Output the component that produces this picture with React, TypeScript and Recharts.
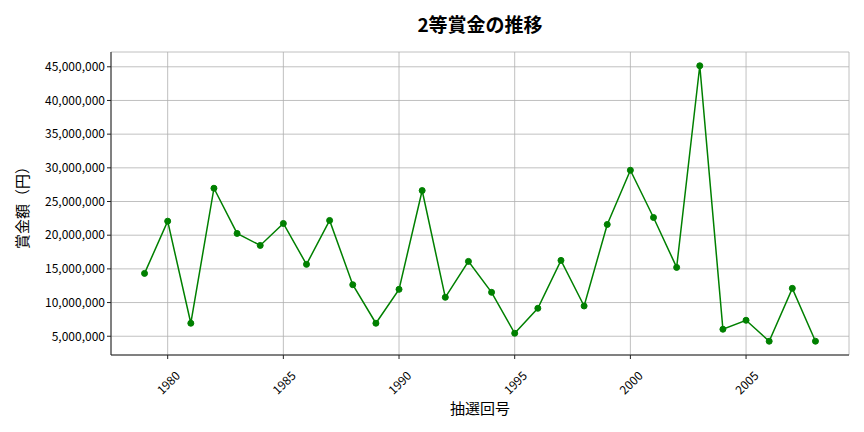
import React from "react";
import { LineChart, Line, XAxis, YAxis, CartesianGrid } from "recharts";

const years = [1979, 1980, 1981, 1982, 1983, 1984, 1985, 1986, 1987, 1988, 1989, 1990, 1991, 1992, 1993, 1994, 1995, 1996, 1997, 1998, 1999, 2000, 2001, 2002, 2003, 2004, 2005, 2006, 2007, 2008];
const prizes = [14330000, 22080000, 6930000, 26970000, 20260000, 18480000, 21740000, 15670000, 22190000, 12650000, 6930000, 11960000, 26630000, 10780000, 16110000, 11520000, 5440000, 9150000, 16260000, 9490000, 21590000, 29640000, 22630000, 15220000, 45150000, 6040000, 7370000, 4260000, 12110000, 4260000];
const xTicks = [1980, 1985, 1990, 1995, 2000, 2005];
const yTicks = [5000000, 10000000, 15000000, 20000000, 25000000, 30000000, 35000000, 40000000, 45000000];

const title = "2等賞金の推移";
const xLabel = "抽選回号";
const yLabel = "賞金額（円）";

const data = years.map((y, i) => ({ year: y, prize: prizes[i] }));

const xMin = Math.min(...years);
const xMax = Math.max(...years);
const xPad = (xMax - xMin) * 0.05;
const yMin = Math.min(...prizes);
const yMax = Math.max(...prizes);
const yPad = (yMax - yMin) * 0.05;

const FONT = "'Noto Sans CJK JP', 'Noto Sans', sans-serif";

const XTick = (props: any) => {
  const { x, y, payload } = props;
  const cx = x;
  const cy = y + 21;
  return (
    <text
      x={cx}
      y={cy}
      textAnchor="middle"
      dominantBaseline="central"
      transform={`rotate(-45, ${cx}, ${cy})`}
      fontSize={12}
      fontFamily={FONT}
      fill="#000"
    >
      {payload.value}
    </text>
  );
};

const fmt = (v: number) => v.toLocaleString("en-US");

export default function App() {
  return (
    <div style={{ position: "absolute", left: 0, top: 0, width: 864, height: 432, background: "#fff", fontFamily: FONT }}>
      <LineChart width={864} height={432} data={data} margin={{ top: 52, right: 15, bottom: 0, left: 0 }}>
        <CartesianGrid stroke="#b0b0b0" strokeWidth={0.8} />
        <XAxis
          dataKey="year"
          type="number"
          domain={[xMin - xPad, xMax + xPad]}
          ticks={xTicks}
          height={77}
          tickSize={4}
          tick={<XTick />}
          axisLine={{ stroke: "#222", strokeWidth: 1 }}
          tickLine={{ stroke: "#222" }}
          allowDataOverflow
        />
        <XAxis xAxisId="top" orientation="top" dataKey="year" type="number" domain={[xMin - xPad, xMax + xPad]} height={0} tick={false} tickLine={false} axisLine={{ stroke: "#222", strokeWidth: 1 }} />
        <YAxis
          type="number"
          domain={[yMin - yPad, yMax + yPad]}
          ticks={yTicks}
          width={111}
          tickSize={4}
          tickMargin={2}
          tickFormatter={fmt}
          tick={{ fontSize: 12, fill: "#000", fontFamily: FONT }}
          axisLine={{ stroke: "#222", strokeWidth: 1 }}
          tickLine={{ stroke: "#222" }}
          allowDataOverflow
        />
        <YAxis yAxisId="right" orientation="right" type="number" domain={[yMin - yPad, yMax + yPad]} width={0} tick={false} tickLine={false} axisLine={{ stroke: "#222", strokeWidth: 1 }} />
        <Line
          type="linear"
          dataKey="prize"
          stroke="#008000"
          strokeWidth={1.5}
          dot={{ r: 3, fill: "#008000", stroke: "#008000", strokeWidth: 1 }}
          activeDot={false}
          isAnimationActive={false}
        />
      </LineChart>
      <div style={{ position: "absolute", left: 111, width: 738, top: 12, textAlign: "center", fontSize: 19, fontWeight: "bold", lineHeight: "24px", color: "#000" }}>
        {title}
      </div>
      <div style={{ position: "absolute", left: 111, width: 738, top: 397, textAlign: "center", fontSize: 15, lineHeight: "22px", color: "#000" }}>
        {xLabel}
      </div>
      <div
        style={{
          position: "absolute",
          left: 22,
          top: 203.5,
          transform: "translate(-50%, -50%) rotate(-90deg)",
          fontSize: 15,
          lineHeight: "20px",
          whiteSpace: "nowrap",
          color: "#000",
        }}
      >
        {yLabel}
      </div>
    </div>
  );
}
